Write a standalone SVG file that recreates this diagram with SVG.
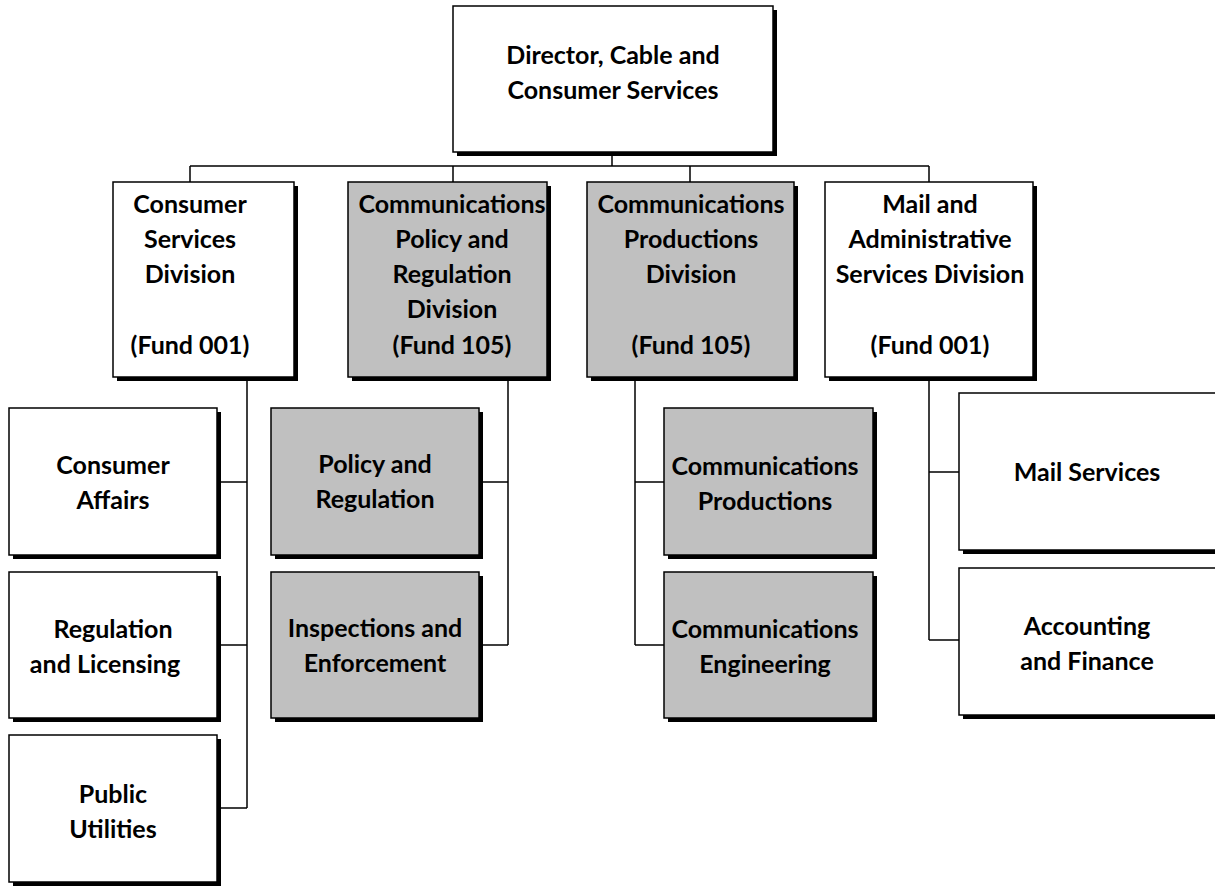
<svg xmlns="http://www.w3.org/2000/svg" width="1215" height="886" viewBox="0 0 1215 886">
<style>
.sh{fill:#000}
.bx{fill:#fff;stroke:#000;stroke-width:1.5}
.g{fill:#c0c0c0}
.t{font-family:Lato,"Open Sans","Liberation Sans",sans-serif;font-weight:700;font-size:25px;fill:#000;text-anchor:middle}
.c{fill:none;stroke:#000;stroke-width:1.5}
</style>
<rect width="1215" height="886" fill="#fff"/>
<g id="connectors">
<path class="c" d="M612 152V166M190 166H929M190 166V182M453 166V182M690 166V182M929 166V182"/>
<path class="c" d="M247 377V808M219 482H247M219 645H247M219 808H247"/>
<path class="c" d="M508 377V645M481 482H508M481 645H508"/>
<path class="c" d="M635 377V645M635 482H664M635 645H664"/>
<path class="c" d="M929 377V640M929 472H959M929 640H959"/>
</g>
<g id="director">
<rect class="sh" x="457" y="10" width="320" height="146"/>
<rect class="bx" x="453" y="6" width="320" height="146"/>
<text class="t" x="613" y="64">Director, Cable and</text>
<text class="t" x="613" y="99">Consumer Services</text>
</g>
<g id="consumer-services-division">
<rect class="sh" x="117" y="186" width="181" height="195"/>
<rect class="bx" x="113" y="182" width="181" height="195"/>
<text class="t" x="190" y="213">Consumer</text>
<text class="t" x="190" y="248">Services</text>
<text class="t" x="190" y="283">Division</text>
<text class="t" x="190" y="354">(Fund 001)</text>
</g>
<g id="comm-policy-division">
<rect class="sh" x="352" y="186" width="199" height="195"/>
<rect class="bx g" x="348" y="182" width="199" height="195"/>
<text class="t" x="452" y="213">Communications</text>
<text class="t" x="452" y="248">Policy and</text>
<text class="t" x="452" y="283">Regulation</text>
<text class="t" x="452" y="318">Division</text>
<text class="t" x="452" y="354">(Fund 105)</text>
</g>
<g id="comm-productions-division">
<rect class="sh" x="591" y="186" width="207" height="195"/>
<rect class="bx g" x="587" y="182" width="207" height="195"/>
<text class="t" x="691" y="213">Communications</text>
<text class="t" x="691" y="248">Productions</text>
<text class="t" x="691" y="283">Division</text>
<text class="t" x="691" y="354">(Fund 105)</text>
</g>
<g id="mail-admin-division">
<rect class="sh" x="829" y="186" width="208" height="195"/>
<rect class="bx" x="825" y="182" width="208" height="195"/>
<text class="t" x="930" y="213">Mail and</text>
<text class="t" x="930" y="248">Administrative</text>
<text class="t" x="930" y="283">Services Division</text>
<text class="t" x="930" y="354">(Fund 001)</text>
</g>
<g id="consumer-affairs">
<rect class="sh" x="13" y="412" width="208" height="147"/>
<rect class="bx" x="9" y="408" width="208" height="147"/>
<text class="t" x="113" y="474">Consumer</text>
<text class="t" x="113" y="509">Affairs</text>
</g>
<g id="regulation-licensing">
<rect class="sh" x="13" y="576" width="208" height="146"/>
<rect class="bx" x="9" y="572" width="208" height="146"/>
<text class="t" x="113" y="638">Regulation</text>
<text class="t" x="105" y="673">and Licensing</text>
</g>
<g id="public-utilities">
<rect class="sh" x="13" y="739" width="208" height="147"/>
<rect class="bx" x="9" y="735" width="208" height="147"/>
<text class="t" x="113" y="803">Public</text>
<text class="t" x="113" y="838">Utilities</text>
</g>
<g id="policy-regulation">
<rect class="sh" x="275" y="412" width="208" height="147"/>
<rect class="bx g" x="271" y="408" width="208" height="147"/>
<text class="t" x="375" y="473">Policy and</text>
<text class="t" x="375" y="508">Regulation</text>
</g>
<g id="inspections-enforcement">
<rect class="sh" x="275" y="576" width="208" height="146"/>
<rect class="bx g" x="271" y="572" width="208" height="146"/>
<text class="t" x="375" y="637">Inspections and</text>
<text class="t" x="375" y="672">Enforcement</text>
</g>
<g id="comm-productions">
<rect class="sh" x="668" y="412" width="209" height="147"/>
<rect class="bx g" x="664" y="408" width="209" height="147"/>
<text class="t" x="765" y="475">Communications</text>
<text class="t" x="765" y="510">Productions</text>
</g>
<g id="comm-engineering">
<rect class="sh" x="668" y="576" width="209" height="146"/>
<rect class="bx g" x="664" y="572" width="209" height="146"/>
<text class="t" x="765" y="638">Communications</text>
<text class="t" x="765" y="673">Engineering</text>
</g>
<g id="mail-services">
<rect class="sh" x="963" y="397" width="270" height="157"/>
<rect class="bx" x="959" y="393" width="270" height="157"/>
<text class="t" x="1087" y="481">Mail Services</text>
</g>
<g id="accounting-finance">
<rect class="sh" x="963" y="572" width="270" height="147"/>
<rect class="bx" x="959" y="568" width="270" height="147"/>
<text class="t" x="1087" y="635">Accounting</text>
<text class="t" x="1087" y="670">and Finance</text>
</g>
</svg>
